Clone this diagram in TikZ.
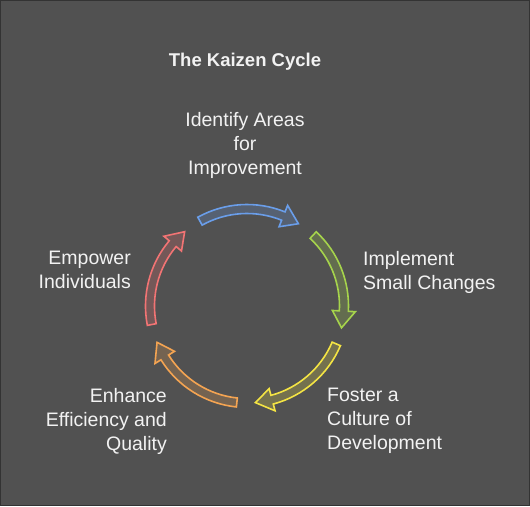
\documentclass[tikz,border=0pt]{standalone}
\usepackage{fontspec}
\setmainfont{Liberation Sans}
\usepackage{tikz}
\usetikzlibrary{positioning,calc}

\definecolor{bgcol}{HTML}{515151}
\definecolor{framecol}{HTML}{333333}
\definecolor{txtcol}{HTML}{F2F2F2}
\definecolor{cblue}{HTML}{6A9EEA}
\definecolor{cgreen}{HTML}{A6D44C}
\definecolor{cyellow}{HTML}{F4E444}
\definecolor{corange}{HTML}{F4A452}
\definecolor{cred}{HTML}{F27474}

% one curved arrow of the cycle: #1 colour, #2 start angle, #3 end angle
\newcommand{\cyclearrow}[3]{%
  \draw[cyc, draw=#1, fill=#1, fill opacity=0.22]
    ($(ctr)+(#2:\rr+\ww)$) arc[start angle=#2, end angle=#3+10, radius=\rr+\ww]
    -- ($(ctr)+(#3+10:\rr+\hh)$) -- ($(ctr)+(#3:\rr)$) -- ($(ctr)+(#3+10:\rr-\hh)$)
    -- ($(ctr)+(#3+10:\rr-\ww)$) arc[start angle=#3+10, end angle=#2, radius=\rr-\ww]
    -- cycle;}

\begin{document}
\begin{tikzpicture}[
        x=1pt, y=1pt,
        label/.style={text=txtcol, font=\fontsize{19.5}{24}\selectfont, inner sep=0pt},
        title/.style={text=txtcol, font=\fontsize{18.5}{20}\selectfont\bfseries, inner sep=0pt},
        cyc/.style={line width=1.6pt, line join=miter}
    ]
        \def\rr{97}
        \def\ww{4.5}
        \def\hh{11.5}
        % background
        \fill[framecol] (0,0) rectangle (530,-506);
        \fill[bgcol] (1,-1) rectangle (529,-505);
        \useasboundingbox (0,0) rectangle (530,-506);
        \coordinate (ctr) at (247,-306);

        % Title
        \node[title] (ttl) at (245,-62) {The Kaizen Cycle};

        % Cycle arrows
        \cyclearrow{cblue}{119}{58}
        \cyclearrow{cgreen}{47}{-13}
        \cyclearrow{cyellow}{-23}{-85}
        \cyclearrow{corange}{-96}{-158}
        \cyclearrow{cred}{-169}{-230}

        % Steps
        \node[label, align=center, anchor=north] (idf) at (245,-112) {Identify Areas\\for\\Improvement};
        \node[label, align=left, anchor=north west] (imp) at (363,-251) {Implement\\Small Changes};
        \node[label, align=left, anchor=north west] (fos) at (327,-388) {Foster a\\Culture of\\Development};
        \node[label, align=right, anchor=north east] (enh) at (167,-388) {Enhance\\Efficiency and\\Quality};
        \node[label, align=right, anchor=north east] (emp) at (131,-251) {Empower\\Individuals};
    \end{tikzpicture}
\end{document}
